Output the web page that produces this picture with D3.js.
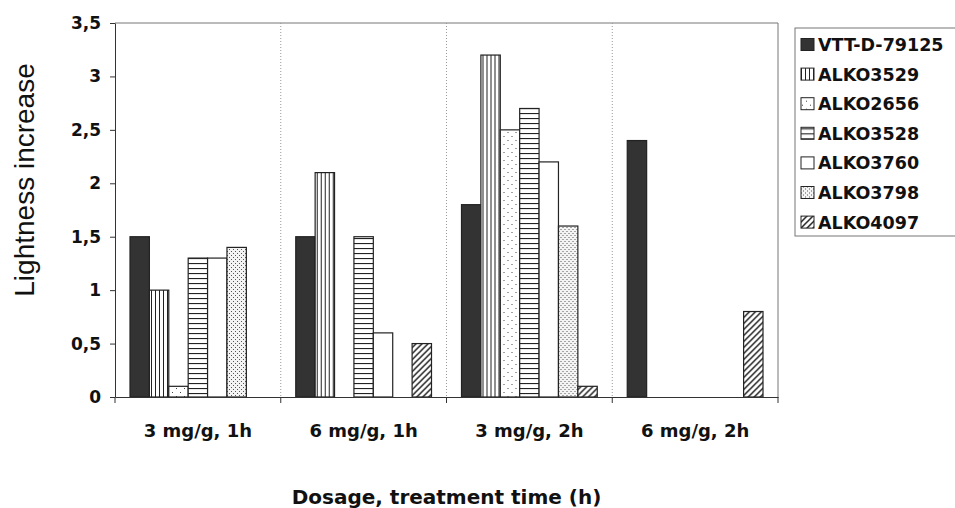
<!DOCTYPE html>
<html>
<head>
<meta charset="utf-8">
<script src="https://cdn.jsdelivr.net/npm/d3@7"></script>
<style>
  body { margin: 0; background: #fff; }
  text { font-family: "DejaVu Sans", sans-serif; font-weight: bold; }
  text.ytitle { font-family: "Liberation Sans", Arial, sans-serif; font-weight: normal; }
</style>
</head>
<body>
<div id="chart"></div>
<script>
var categories = ["3 mg/g, 1h", "6 mg/g, 1h", "3 mg/g, 2h", "6 mg/g, 2h"];
var seriesNames = ["VTT-D-79125", "ALKO3529", "ALKO2656", "ALKO3528", "ALKO3760", "ALKO3798", "ALKO4097"];
var vtt      = [1.5, 1.5, 1.8, 2.4];
var alko3529 = [1.0, 2.1, 3.2, 0];
var alko2656 = [0.1, 0, 2.5, 0];
var alko3528 = [1.3, 1.5, 2.7, 0];
var alko3760 = [1.3, 0.6, 2.2, 0];
var alko3798 = [1.4, 0, 1.6, 0];
var alko4097 = [0, 0.5, 0.1, 0.8];
var yTicks = [0, 0.5, 1, 1.5, 2, 2.5, 3, 3.5];

var seriesValues = [vtt, alko3529, alko2656, alko3528, alko3760, alko3798, alko4097];

var W = 955, H = 508;
var margin = {top: 23, right: 177, bottom: 111, left: 115};
var width = W - margin.left - margin.right;
var height = H - margin.top - margin.bottom;

var svg = d3.select("#chart").append("svg")
    .attr("width", W)
    .attr("height", H);

// fill patterns
var defs = svg.append("defs");
var fills = ["#333333", "url(#pVert)", "url(#pSparse)", "url(#pHoriz)", "#ffffff", "url(#pDense)", "url(#pDiag)"];

var pv = defs.append("pattern").attr("id", "pVert").attr("patternUnits", "userSpaceOnUse")
    .attr("width", 4).attr("height", 4);
pv.append("rect").attr("width", 4).attr("height", 4).attr("fill", "#fff");
pv.append("line").attr("x1", 0.5).attr("y1", 0).attr("x2", 0.5).attr("y2", 4)
    .attr("stroke", "#222").attr("stroke-width", 1);

var ph = defs.append("pattern").attr("id", "pHoriz").attr("patternUnits", "userSpaceOnUse")
    .attr("width", 4).attr("height", 5);
ph.append("rect").attr("width", 4).attr("height", 5).attr("fill", "#fff");
ph.append("line").attr("x1", 0).attr("y1", 0.5).attr("x2", 4).attr("y2", 0.5)
    .attr("stroke", "#222").attr("stroke-width", 1.2);

var ps = defs.append("pattern").attr("id", "pSparse").attr("patternUnits", "userSpaceOnUse")
    .attr("width", 8).attr("height", 8);
ps.append("rect").attr("width", 8).attr("height", 8).attr("fill", "#fff");
ps.append("rect").attr("x", 1).attr("y", 1).attr("width", 1).attr("height", 1).attr("fill", "#444");
ps.append("rect").attr("x", 5).attr("y", 5).attr("width", 1).attr("height", 1).attr("fill", "#444");

var pd = defs.append("pattern").attr("id", "pDense").attr("patternUnits", "userSpaceOnUse")
    .attr("width", 4).attr("height", 4);
pd.append("rect").attr("width", 4).attr("height", 4).attr("fill", "#f4f4f4");
pd.append("rect").attr("x", 0).attr("y", 0).attr("width", 1).attr("height", 1).attr("fill", "#555");
pd.append("rect").attr("x", 2).attr("y", 2).attr("width", 1).attr("height", 1).attr("fill", "#555");

var pg = defs.append("pattern").attr("id", "pDiag").attr("patternUnits", "userSpaceOnUse")
    .attr("width", 6).attr("height", 6);
pg.append("rect").attr("width", 6).attr("height", 6).attr("fill", "#fff");
pg.append("path").attr("d", "M-1,7 L7,-1 M-1,1 L1,-1 M5,7 L7,5")
    .attr("stroke", "#222").attr("stroke-width", 1.5);

var g = svg.append("g").attr("transform", "translate(" + margin.left + "," + margin.top + ")");

var x0 = d3.scaleBand().domain(categories).range([0, width]).paddingInner(0).paddingOuter(0);
var x1 = d3.scaleBand().domain(seriesNames).range([15, x0.bandwidth() - 15]);
var y = d3.scaleLinear().domain([0, 3.5]).range([height, 0]);

// frame top and right
g.append("line").attr("x1", 0).attr("x2", width).attr("y1", 0).attr("y2", 0)
    .attr("stroke", "#777").attr("stroke-width", 1);
g.append("line").attr("x1", width).attr("x2", width).attr("y1", 0).attr("y2", height)
    .attr("stroke", "#777").attr("stroke-width", 1);

// dotted separators between groups
g.selectAll(".sep").data(categories.slice(1)).enter().append("line")
    .attr("x1", function(d){ return x0(d); })
    .attr("x2", function(d){ return x0(d); })
    .attr("y1", 0).attr("y2", height)
    .attr("stroke", "#999").attr("stroke-dasharray", "1,2");

// bars
var groups = g.selectAll(".grp").data(categories).enter().append("g")
    .attr("transform", function(d){ return "translate(" + x0(d) + ",0)"; });

groups.selectAll("rect")
    .data(function(d, i){
        return seriesNames.map(function(s, j){ return {s: s, j: j, v: seriesValues[j][i]}; })
            .filter(function(e){ return e.v > 0; });
    })
    .enter().append("rect")
    .attr("x", function(d){ return x1(d.s); })
    .attr("width", x1.bandwidth())
    .attr("y", function(d){ return y(d.v); })
    .attr("height", function(d){ return height - y(d.v); })
    .attr("fill", function(d){ return fills[d.j]; })
    .attr("stroke", "#222").attr("stroke-width", 1.2);

// y axis
var yAxis = g.append("g")
    .call(d3.axisLeft(y).tickValues(yTicks).tickSize(5).tickSizeOuter(0)
        .tickFormat(function(d){ return String(d).replace(".", ","); }));
yAxis.select(".domain").attr("stroke", "#333");
yAxis.selectAll(".tick line").attr("stroke", "#333");
yAxis.selectAll("text").attr("font-size", 17).attr("fill", "#111").attr("x", -14)
    .attr("font-family", "'DejaVu Sans', sans-serif").attr("font-weight", "bold");

// x axis
var xAxis = g.append("g").attr("transform", "translate(0," + height + ")")
    .call(d3.axisBottom(x0).tickSize(0));
xAxis.select(".domain").attr("stroke", "#333");
xAxis.selectAll("text").attr("font-size", 18).attr("fill", "#111").attr("dy", 0).attr("y", 40)
    .attr("font-family", "'DejaVu Sans', sans-serif").attr("font-weight", "bold");
// category ticks at group edges
g.selectAll(".xt").data(d3.range(categories.length + 1)).enter().append("line")
    .attr("x1", function(d){ return d * x0.bandwidth(); })
    .attr("x2", function(d){ return d * x0.bandwidth(); })
    .attr("y1", height).attr("y2", height + 6)
    .attr("stroke", "#333");

// axis titles
svg.append("text")
    .attr("class", "ytitle")
    .attr("transform", "translate(34,180) rotate(-90)")
    .attr("text-anchor", "middle")
    .attr("font-size", 28).attr("fill", "#111")
    .text("Lightness increase");
svg.append("text")
    .attr("x", margin.left + width / 2).attr("y", 504)
    .attr("text-anchor", "middle")
    .attr("font-size", 20).attr("fill", "#111")
    .text("Dosage, treatment time (h)");

// legend
var leg = svg.append("g").attr("transform", "translate(795,28)");
leg.append("rect").attr("width", 170).attr("height", 208)
    .attr("fill", "#fff").attr("stroke", "#777");
var items = leg.selectAll(".li").data(seriesNames).enter().append("g")
    .attr("transform", function(d, i){ return "translate(6," + (16.5 + i * 29.6) + ")"; });
items.append("rect").attr("x", 0).attr("y", -6).attr("width", 13).attr("height", 12)
    .attr("fill", function(d, i){ return fills[i]; })
    .attr("stroke", "#222").attr("stroke-width", 1);
items.append("text").attr("x", 17).attr("y", 6.5)
    .attr("font-size", 17.5).attr("fill", "#111")
    .text(function(d){ return d; });
</script>
</body>
</html>
